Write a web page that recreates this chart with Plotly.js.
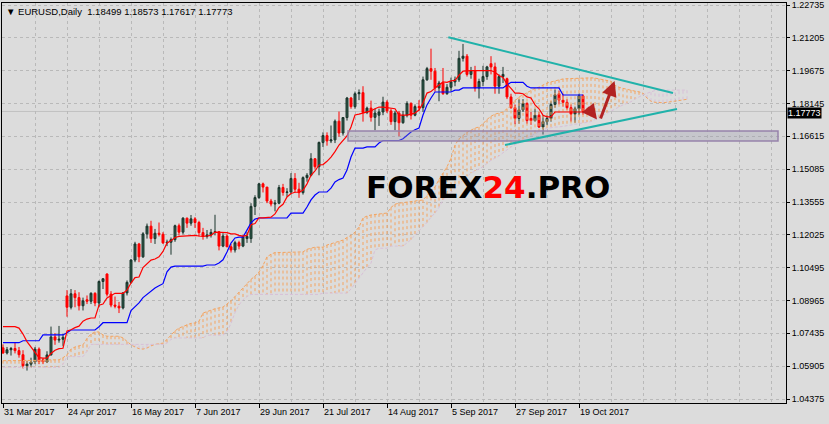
<!DOCTYPE html>
<html>
<head>
<meta charset="utf-8">
<script src="https://cdn.plot.ly/plotly-3.0.1.min.js"></script>
<style>html,body{margin:0;padding:0;background:#dcdcdc;}#chart{width:829px;height:424px;}</style>
</head>
<body>
<div id="chart"></div>
<script>
// ---- data ----
const xTickIdx = [0,16,32,48,64,80,96,112,128,144];
const xTickText = ["31 Mar 2017","24 Apr 2017","16 May 2017","7 Jun 2017","29 Jun 2017","21 Jul 2017","14 Aug 2017","5 Sep 2017","27 Sep 2017","19 Oct 2017"];
const gridIdx = [8,24,40,56,72,88,104,120,136,152,160,168,176,184,192];
const yTicks = [1.04375,1.05905,1.07435,1.08965,1.10495,1.12025,1.13555,1.15085,1.16615,1.18145,1.19675,1.21205,1.22735];

const open = [1.0676,1.0652,1.0667,1.0673,1.0663,1.0644,1.0592,1.0600,1.0610,1.0670,
1.0620,1.0610,1.0643,1.0727,1.0712,1.0716,1.0918,1.0865,1.0928,1.0910,
1.0872,1.0900,1.0893,1.0930,1.0885,1.0985,1.1020,1.0926,1.0875,1.0870,
1.0862,1.0932,1.0981,1.1085,1.1160,1.1100,1.1207,1.1243,1.1185,1.1210,
1.1205,1.1165,1.1168,1.1180,1.1245,1.1215,1.1280,1.1257,1.1277,1.1260,
1.1213,1.1195,1.1202,1.1214,1.1217,1.1150,1.1197,1.1147,1.1132,1.1166,
1.1150,1.1185,1.1185,1.1335,1.1376,1.1440,1.1425,1.1360,1.1346,1.1350,
1.1423,1.1400,1.1402,1.1465,1.1415,1.1399,1.1469,1.1480,1.1557,1.1520,
1.1633,1.1665,1.1640,1.1645,1.1732,1.1677,1.1749,1.1840,1.1800,1.1860,
1.1865,1.1773,1.1793,1.1750,1.1760,1.1775,1.1821,1.1780,1.1730,1.1770,
1.1725,1.1760,1.1815,1.1760,1.1800,1.1795,1.1925,1.1977,1.1965,1.1887,
1.1910,1.1860,1.1890,1.1915,1.1925,1.2025,1.2035,1.1950,1.1967,1.1887,
1.1917,1.1940,1.2000,1.1985,1.1895,1.1940,1.1930,1.1845,1.1795,1.1745,
1.1785,1.1815,1.1745,1.1735,1.1760,1.1705,1.1730,1.1745,1.1810,1.1860,
1.1830,1.1820,1.1795,1.1765,1.1790,1.18499];
const high = [1.0692,1.0680,1.0680,1.0700,1.0680,1.0665,1.0615,1.0630,1.0680,1.0678,
1.0628,1.0660,1.0775,1.0745,1.0778,1.0740,1.0945,1.0950,1.0945,1.0935,
1.0910,1.0920,1.0935,1.0935,1.0990,1.1000,1.1023,1.0940,1.0915,1.0890,
1.0935,1.0990,1.1090,1.1170,1.1165,1.1215,1.1255,1.1268,1.1230,1.1260,
1.1215,1.1180,1.1190,1.1250,1.1255,1.1285,1.1283,1.1295,1.1285,1.1268,
1.1235,1.1225,1.1230,1.1296,1.1220,1.1210,1.1205,1.1160,1.1175,1.1175,
1.1200,1.1215,1.1350,1.1387,1.1445,1.1446,1.1425,1.1370,1.1365,1.1435,
1.1440,1.1420,1.1490,1.1490,1.1445,1.1475,1.1490,1.1583,1.1560,1.1637,
1.1680,1.1680,1.1712,1.1740,1.1777,1.1750,1.1845,1.1845,1.1870,1.1880,
1.1895,1.1800,1.1828,1.1790,1.1790,1.1846,1.1830,1.1790,1.1780,1.1780,
1.1780,1.1825,1.1820,1.1810,1.1830,1.1940,1.1985,1.2070,1.1980,1.1920,
1.1980,1.1905,1.1935,1.1940,1.2060,1.2092,1.2045,1.1985,1.1990,1.1930,
1.1990,1.1990,1.2035,1.2005,1.1950,1.1985,1.1935,1.1860,1.1810,1.1835,
1.1835,1.1820,1.1775,1.1790,1.1775,1.1760,1.1760,1.1825,1.1880,1.1875,
1.1860,1.1835,1.1810,1.1800,1.1860,1.18573];
const low = [1.0648,1.0645,1.0640,1.0650,1.0630,1.0580,1.0570,1.0585,1.0600,1.0600,
1.0600,1.0605,1.0640,1.0690,1.0700,1.0685,1.0821,1.0855,1.0865,1.0850,
1.0850,1.0880,1.0880,1.0870,1.0865,1.0950,1.0915,1.0865,1.0860,1.0838,
1.0855,1.0920,1.0975,1.1075,1.1075,1.1095,1.1185,1.1165,1.1160,1.1195,
1.1160,1.1150,1.1110,1.1170,1.1200,1.1205,1.1235,1.1245,1.1235,1.1195,
1.1180,1.1185,1.1190,1.1200,1.1130,1.1145,1.1145,1.1120,1.1120,1.1135,
1.1145,1.1165,1.1165,1.1295,1.1370,1.1400,1.1350,1.1335,1.1312,1.1345,
1.1385,1.1380,1.1390,1.1400,1.1375,1.1390,1.1450,1.1475,1.1510,1.1480,
1.1612,1.1618,1.1630,1.1630,1.1660,1.1665,1.1735,1.1790,1.1790,1.1830,
1.1730,1.1765,1.1730,1.1690,1.1710,1.1760,1.1770,1.1715,1.1690,1.1662,
1.1720,1.1750,1.1740,1.1755,1.1780,1.1775,1.1920,1.1925,1.1870,1.1825,
1.1855,1.1855,1.1870,1.1895,1.1915,1.2010,1.1940,1.1930,1.1870,1.1838,
1.1895,1.1925,1.1950,1.1860,1.1860,1.1910,1.1835,1.1790,1.1718,1.1720,
1.1775,1.1720,1.1715,1.1730,1.1700,1.1670,1.1715,1.1730,1.1795,1.1810,
1.1800,1.1785,1.1730,1.1725,1.1760,1.17617];
const close = [1.0652,1.0667,1.0673,1.0663,1.0644,1.0592,1.0600,1.0610,1.0670,1.0612,
1.0610,1.0643,1.0727,1.0712,1.0716,1.0725,1.0865,1.0928,1.0910,1.0872,
1.0895,1.0893,1.0930,1.0885,1.0985,1.0998,1.0926,1.0875,1.0870,1.0862,
1.0932,1.0981,1.1085,1.1160,1.1100,1.1207,1.1243,1.1185,1.1210,1.1205,
1.1165,1.1168,1.1180,1.1245,1.1215,1.1280,1.1257,1.1277,1.1260,1.1213,
1.1195,1.1202,1.1214,1.1217,1.1150,1.1197,1.1147,1.1132,1.1166,1.1150,
1.1195,1.1195,1.1335,1.1376,1.1440,1.1425,1.1360,1.1346,1.1350,1.1423,
1.1400,1.1402,1.1465,1.1415,1.1399,1.1469,1.1480,1.1557,1.1520,1.1633,
1.1665,1.1640,1.1645,1.1732,1.1677,1.1749,1.1840,1.1800,1.1860,1.1865,
1.1773,1.1793,1.1750,1.1770,1.1775,1.1821,1.1780,1.1730,1.1770,1.1725,
1.1760,1.1815,1.1760,1.1800,1.1795,1.1925,1.1977,1.1965,1.1887,1.1910,
1.1860,1.1890,1.1915,1.1925,1.2025,1.2035,1.1950,1.1967,1.1887,1.1917,
1.1940,1.1985,1.1985,1.1895,1.1940,1.1950,1.1845,1.1795,1.1745,1.1785,
1.1815,1.1735,1.1735,1.1760,1.1705,1.1730,1.1745,1.1810,1.1855,1.1830,
1.1820,1.1795,1.1765,1.1790,1.1850,1.17773];

const tenkan = [1.0775,1.0775,1.0775,1.0775,1.0768,1.0740,1.0705,1.0680,1.0650,1.0630,
1.0628,1.0628,1.0650,1.0665,1.0672,1.0674,1.0754,1.0760,1.0770,1.0777,
1.0800,1.0810,1.0815,1.0815,1.0875,1.0880,1.0908,1.0920,1.0930,1.0930,
1.0930,1.0945,1.0978,1.1003,1.1006,1.1050,1.1070,1.1085,1.1090,1.1100,
1.1125,1.1165,1.1175,1.1190,1.1195,1.1197,1.1197,1.1200,1.1200,1.1197,
1.1195,1.1197,1.1200,1.1215,1.1215,1.1213,1.1213,1.1207,1.1207,1.1200,
1.1197,1.1200,1.1250,1.1255,1.1282,1.1282,1.1283,1.1285,1.1300,1.1330,
1.1345,1.1379,1.1395,1.1401,1.1401,1.1410,1.1440,1.1480,1.1500,1.1528,
1.1530,1.1545,1.1565,1.1590,1.1621,1.1640,1.1663,1.1705,1.1761,1.1765,
1.1770,1.1775,1.1780,1.1790,1.1798,1.1798,1.1795,1.1790,1.1790,1.1760,
1.1760,1.1760,1.1765,1.1770,1.1784,1.1817,1.1863,1.1870,1.1887,1.1900,
1.1915,1.1913,1.1920,1.1922,1.1947,1.1965,1.1968,1.1968,1.1968,1.1968,
1.1968,1.1968,1.1968,1.1960,1.1945,1.1936,1.1905,1.1885,1.1863,1.1863,
1.1860,1.1845,1.1840,1.1808,1.1790,1.1760,1.1752,1.1752,1.1775,1.1775,
1.1775,1.1775,1.1775,1.1775,1.1775,1.1775];
const kijun = [1.0700,1.0700,1.0700,1.0700,1.0700,1.0709,1.0709,1.0709,1.0709,1.0709,
1.0736,1.0736,1.0736,1.0736,1.0736,1.0736,1.0746,1.0759,1.0759,1.0759,
1.0759,1.0759,1.0759,1.0759,1.0774,1.0793,1.0793,1.0793,1.0793,1.0793,
1.0793,1.0793,1.0850,1.0868,1.0885,1.0910,1.0925,1.0940,1.0955,1.0965,
1.0975,1.1030,1.1052,1.1057,1.1057,1.1057,1.1057,1.1057,1.1057,1.1057,
1.1057,1.1062,1.1062,1.1062,1.1071,1.1086,1.1123,1.1164,1.1188,1.1192,
1.1192,1.1225,1.1258,1.1276,1.1281,1.1281,1.1281,1.1281,1.1281,1.1281,
1.1281,1.1281,1.1304,1.1304,1.1304,1.1304,1.1332,1.1365,1.1388,1.1402,
1.1402,1.1402,1.1420,1.1449,1.1460,1.1467,1.1505,1.1565,1.1607,1.1607,
1.1607,1.1612,1.1612,1.1612,1.1630,1.1642,1.1642,1.1642,1.1642,1.1642,
1.1650,1.1668,1.1682,1.1692,1.1700,1.1761,1.1808,1.1840,1.1868,1.1868,
1.1868,1.1868,1.1868,1.1877,1.1877,1.1887,1.1887,1.1887,1.1887,1.1887,
1.1887,1.1887,1.1887,1.1887,1.1887,1.1887,1.1901,1.1913,1.1913,1.1913,
1.1913,1.1895,1.1887,1.1887,1.1887,1.1887,1.1887,1.1887,1.1887,1.1887,
1.1854,1.1854,1.1854,1.1854,1.1854,1.1854];

const spanA = [1.0616,1.0616,1.0616,1.0616,1.0616,1.0616,1.0618,1.0618,1.0618,1.0618,
1.0618,1.0620,1.0620,1.0620,1.0620,1.0630,1.0643,1.0670,1.0680,1.0685,
1.0690,1.0720,1.0740,1.0750,1.0750,1.0736,1.0730,1.0730,1.0730,1.0730,
1.0722,1.0705,1.0690,1.0680,1.0672,1.0670,1.0675,1.0685,1.0692,1.0695,
1.0698,1.0715,1.0735,1.0755,1.0768,1.0775,1.0785,1.0790,1.0792,1.0800,
1.0838,1.0845,1.0850,1.0858,1.0862,1.0866,1.0880,1.0895,1.0915,1.0936,
1.0955,1.0975,1.0995,1.1010,1.1029,1.1060,1.1100,1.1112,1.1120,1.1120,
1.1120,1.1120,1.1120,1.1120,1.1120,1.1123,1.1135,1.1141,1.1145,1.1145,
1.1145,1.1155,1.1160,1.1165,1.1172,1.1178,1.1190,1.1200,1.1215,1.1239,
1.1281,1.1290,1.1295,1.1298,1.1300,1.1302,1.1304,1.1330,1.1345,1.1350,
1.1352,1.1355,1.1358,1.1360,1.1363,1.1365,1.1385,1.1405,1.1426,1.1460,
1.1490,1.1519,1.1560,1.1620,1.1650,1.1665,1.1680,1.1690,1.1700,1.1705,
1.1720,1.1740,1.1755,1.1765,1.1770,1.1775,1.1790,1.1810,1.1830,1.1845,
1.1855,1.1865,1.1875,1.1885,1.1891,1.1900,1.1910,1.1915,1.1920,1.1925,
1.1929,1.1930,1.1931,1.1932,1.1933,1.1933,1.1934,1.1934,1.1933,1.1930,
1.1927,1.1924,1.1918,1.1900,1.1890,1.1885,1.1880,1.1877,1.1872,1.1869,
1.1862,1.1840,1.1825,1.1820,1.1818,1.1818,1.1820,1.1823,1.1826,1.1830,
1.1832,1.1834];
const spanB = [1.0585,1.0585,1.0585,1.0585,1.0585,1.0585,1.0585,1.0585,1.0585,1.0585,
1.0585,1.0585,1.0585,1.0585,1.0585,1.0600,1.0635,1.0635,1.0635,1.0635,
1.0635,1.0660,1.0692,1.0692,1.0692,1.0692,1.0692,1.0692,1.0692,1.0692,
1.0692,1.0692,1.0692,1.0692,1.0692,1.0692,1.0692,1.0692,1.0692,1.0692,
1.0692,1.0698,1.0715,1.0722,1.0722,1.0722,1.0722,1.0722,1.0722,1.0722,
1.0722,1.0735,1.0735,1.0735,1.0735,1.0735,1.0750,1.0790,1.0840,1.0876,
1.0900,1.0915,1.0925,1.0925,1.0925,1.0925,1.0925,1.0925,1.0925,1.0925,
1.0925,1.0925,1.0925,1.0925,1.0925,1.0925,1.0925,1.0925,1.0925,1.0925,
1.0931,1.0931,1.0931,1.0931,1.0931,1.0931,1.0931,1.0950,1.0975,1.1000,
1.1029,1.1050,1.1071,1.1132,1.1140,1.1140,1.1140,1.1150,1.1150,1.1150,
1.1150,1.1165,1.1180,1.1202,1.1220,1.1239,1.1260,1.1285,1.1304,1.1330,
1.1365,1.1380,1.1400,1.1420,1.1440,1.1460,1.1475,1.1490,1.1500,1.1510,
1.1520,1.1535,1.1550,1.1560,1.1570,1.1585,1.1600,1.1612,1.1622,1.1630,
1.1645,1.1655,1.1665,1.1675,1.1685,1.1692,1.1698,1.1703,1.1705,1.1705,
1.1708,1.1710,1.1714,1.1718,1.1722,1.1725,1.1728,1.1730,1.1740,1.1750,
1.1760,1.1770,1.1780,1.1790,1.1800,1.1808,1.1815,1.1823,1.1835,1.1846,
1.1855,1.1862,1.1869,1.1875,1.1877,1.1877,1.1877,1.1877,1.1877,1.1877,
1.1877,1.1877];

// ---- build traces ----
const idx = open.map((_, i) => i);
const sidx = spanA.map((_, j) => j);
const upX = [], upY = [], dnX = [], dnY = [];
spanA.forEach((a, j) => {
  const b = spanB[j];
  if (a >= b) { upX.push(j, j, null); upY.push(a, b, null); }
  else { dnX.push(j, j, null); dnY.push(a, b, null); }
});
const last = close.length - 1;
const FONT = 'Liberation Sans, Arial, sans-serif';

const traces = [
  {type:'scatter', mode:'lines', x:upX, y:upY, line:{color:'#f4a460', width:1, dash:'3px,3px'}, hoverinfo:'skip'},
  {type:'scatter', mode:'lines', x:dnX, y:dnY, line:{color:'#d8bfd8', width:1, dash:'3px,3px'}, hoverinfo:'skip'},
  {type:'scatter', mode:'lines', x:sidx, y:spanA, line:{color:'#f4a460', width:1, dash:'3px,2px'}, hoverinfo:'skip'},
  {type:'scatter', mode:'lines', x:sidx, y:spanB, line:{color:'#d8bfd8', width:1, dash:'3px,2px'}, hoverinfo:'skip'},
  {type:'candlestick', x:idx, open:open, high:high, low:low, close:close,
   increasing:{line:{color:'#1a352c', width:1}, fillcolor:'#2c5747'},
   decreasing:{line:{color:'#ff0000', width:1}, fillcolor:'#ff0000'},
   whiskerwidth:0, hoverinfo:'skip'},
  {type:'scatter', mode:'lines', x:idx, y:kijun, line:{color:'#0000ff', width:1.2}, hoverinfo:'skip'},
  {type:'scatter', mode:'lines', x:idx, y:tenkan, line:{color:'#ff0000', width:1.2}, hoverinfo:'skip'}
];

const header = '\u25BC EURUSD,Daily\u00a0\u00a0' + [open[last], high[last], low[last], close[last]].map(v => v.toFixed(5)).join(' ');

const layout = {
  width:829, height:424,
  margin:{l:2, r:43, t:3, b:21, pad:0},
  paper_bgcolor:'#dcdcdc', plot_bgcolor:'#dcdcdc',
  showlegend:false, hovermode:false,
  xaxis:{type:'linear', range:[-0.25,195.75], tickmode:'array', tickvals:xTickIdx, ticktext:xTickText,
    ticks:'outside', ticklen:4, tickcolor:'#000', tickwidth:1, ticklabelposition:'outside right',
    tickfont:{family:FONT, size:9, color:'#000'},
    showgrid:true, gridcolor:'#b9b9b9', griddash:'3px,3px', gridwidth:1,
    minor:{tickmode:'array', tickvals:gridIdx, showgrid:true, gridcolor:'#b9b9b9', griddash:'3px,3px', ticks:''},
    showline:true, linecolor:'#000', linewidth:1, mirror:true, zeroline:false,
    rangeslider:{visible:false}, fixedrange:true},
  yaxis:{range:[1.04189,1.22828], side:'right', tickmode:'array', tickvals:yTicks, ticktext:yTicks.map(v => v.toFixed(5)),
    ticks:'outside', ticklen:3, tickcolor:'#000', tickfont:{family:FONT, size:9, color:'#000'},
    showgrid:true, gridcolor:'#b9b9b9', griddash:'3px,3px', gridwidth:1,
    showline:true, linecolor:'#000', linewidth:1, mirror:true, zeroline:false, fixedrange:true},
  shapes:[
    {type:'line', xref:'paper', x0:0, x1:1, yref:'y', y0:close[last], y1:close[last], line:{color:'#c2c2c2', width:1}, layer:'below'},
    {type:'rect', xref:'x', yref:'y', x0:86.25, x1:193.75, y0:1.16398, y1:1.16864, fillcolor:'rgba(150,150,170,0.30)', line:{color:'#9682aa', width:1.5}, layer:'above'},
    {type:'line', xref:'x', yref:'y', x0:111.33, y0:1.21230, x1:167.5, y1:1.18634, line:{color:'#20b2aa', width:2}},
    {type:'line', xref:'x', yref:'y', x0:125.5, y0:1.16211, x1:168.5, y1:1.17889, line:{color:'#20b2aa', width:2}}
  ],
  annotations:[
    {xref:'paper', yref:'paper', x:0, y:1, xanchor:'left', yanchor:'top', xshift:2, yshift:-1, showarrow:false,
     text:header, font:{family:FONT, size:9.5, color:'#000'}},
    {xref:'paper', x:1, xanchor:'left', xshift:1, yref:'y', y:close[last], yanchor:'middle', yshift:-2, showarrow:false,
     text:close[last].toFixed(5), bgcolor:'#000', borderpad:0, font:{family:FONT, size:9, color:'#fff'}},
    {xref:'paper', yref:'paper', x:0.62, y:0.54, xanchor:'center', yanchor:'middle', showarrow:false,
     text:'<b>FOREX<span style="color:#ff0000">24</span>.PRO</b>', font:{family:'DejaVu Sans', size:31, color:'#000'}},
    {xref:'x', yref:'y', axref:'x', ayref:'y', x:148.5, y:1.17400, ax:145.9, ay:1.18029, text:'', showarrow:true,
     arrowhead:2, arrowsize:1, arrowwidth:3, arrowcolor:'#b22222', standoff:0},
    {xref:'x', yref:'y', axref:'x', ayref:'y', x:152.9, y:1.19194, ax:149.25, ay:1.17376, text:'', showarrow:true,
     arrowhead:2, arrowsize:1, arrowwidth:3, arrowcolor:'#b22222', standoff:0}
  ]
};

Plotly.newPlot('chart', traces, layout, {staticPlot:true, displayModeBar:false});
</script>
</body>
</html>
